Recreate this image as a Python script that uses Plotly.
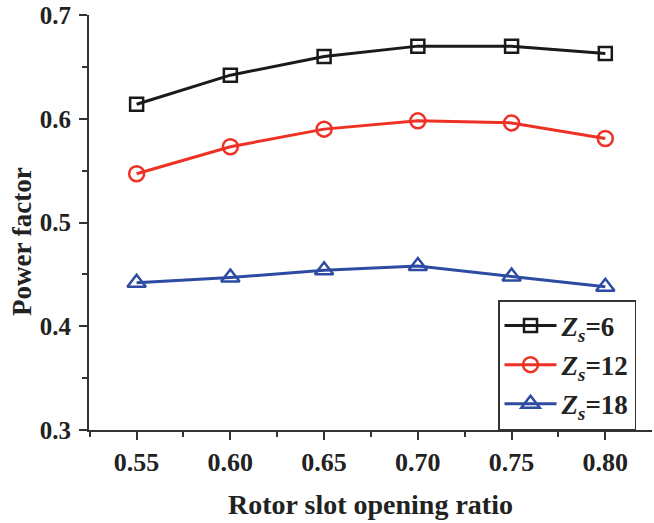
import plotly.graph_objects as go

ratio = [0.55, 0.60, 0.65, 0.70, 0.75, 0.80]
pf_zs6 = [0.614, 0.642, 0.660, 0.670, 0.670, 0.663]
pf_zs12 = [0.547, 0.573, 0.590, 0.598, 0.596, 0.581]
pf_zs18 = [0.442, 0.447, 0.454, 0.458, 0.448, 0.438]
names = ["<i>Z<sub>s</sub></i>=6", "<i>Z<sub>s</sub></i>=12", "<i>Z<sub>s</sub></i>=18"]
xticks = [0.55, 0.60, 0.65, 0.70, 0.75, 0.80]
xticklabels = ["0.55", "0.60", "0.65", "0.70", "0.75", "0.80"]
yticks = [0.3, 0.4, 0.5, 0.6, 0.7]
xtitle = "Rotor slot opening ratio"
ytitle = "Power factor"

FONT = "Liberation Serif, Times New Roman, serif"
colors = ["#1a1a1a", "#ee3124", "#2d4ba3"]
symbols = ["square-open", "circle-open", "triangle-up-open"]
sizes = [13, 15, 16]

fig = go.Figure()
for i, (ys, nm, c, s, sz) in enumerate(zip([pf_zs6, pf_zs12, pf_zs18], names, colors, symbols, sizes)):
    fig.add_trace(go.Scatter(
        x=ratio, y=ys, name=nm, mode="lines+markers", legendgroup=f"g{i}",
        line=dict(color=c, width=3),
        marker=dict(symbol=s, size=sz, color=c, line=dict(width=2.5, color=c)),
    ))

axis_common = dict(showline=True, linecolor="#333", linewidth=2, showgrid=False,
                   zeroline=False, tickcolor="#333", tickwidth=2)

fig.update_layout(
    width=654, height=523,
    margin=dict(l=89, r=2, t=15, b=93),
    paper_bgcolor="white", plot_bgcolor="white",
    font=dict(family=FONT, size=25, color="#222"),
    xaxis=dict(range=[0.5246, 0.8249], tickvals=xticks, ticktext=xticklabels,
               ticks="outside", ticklen=8,
               minor=dict(dtick=0.025, tick0=0.55, ticklen=5, ticks="outside", tickcolor="#333", tickwidth=1.5),
               tickfont=dict(family=FONT, size=26, weight="bold", color="#222"),
               title=dict(text=xtitle, standoff=18,
                          font=dict(family=FONT, size=28, weight="bold", color="#222")),
               **axis_common),
    yaxis=dict(range=[0.3, 0.7], tickvals=yticks, tickformat=".1f",
               ticks="outside", ticklen=8, ticklabelstandoff=3,
               minor=dict(dtick=0.05, tick0=0.3, ticklen=5, ticks="outside", tickcolor="#333", tickwidth=1.5),
               tickfont=dict(family=FONT, size=25, weight="bold", color="#222"),
               **axis_common),
    xaxis2=dict(overlaying="x", matches="x", side="top", tickvals=xticks,
                ticks="inside", ticklen=6, showticklabels=False,
                minor=dict(dtick=0.025, tick0=0.55, ticklen=4, ticks="inside", tickcolor="#333"),
                **axis_common),
    yaxis2=dict(overlaying="y", matches="y", side="right", tickvals=yticks,
                ticks="inside", ticklen=6, showticklabels=False,
                minor=dict(dtick=0.05, tick0=0.3, ticklen=4, ticks="inside", tickcolor="#333"),
                **axis_common),
    legend=dict(x=0.7265, y=0, xanchor="left", yanchor="bottom",
                bgcolor="white", bordercolor="#333", borderwidth=1.5,
                font=dict(family=FONT, size=27, weight="bold", color="#222"),
                tracegroupgap=1, itemwidth=52),
    annotations=[dict(text=ytitle, textangle=-90, xref="paper", yref="paper",
                      x=-0.119, y=0.453, xanchor="center", yanchor="middle",
                      showarrow=False,
                      font=dict(family=FONT, size=27, weight="bold", color="#222"))],
    showlegend=True,
)
fig.write_html("out.html")
